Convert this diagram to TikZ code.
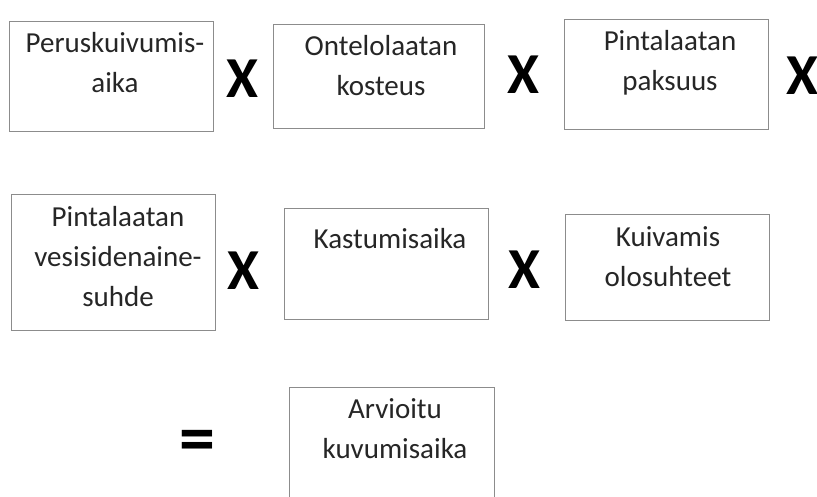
\documentclass[tikz,border=0pt]{standalone}
\usepackage{fontspec}
\setmainfont{Carlito}
\usetikzlibrary{positioning}

\tikzset{
  box/.style={draw=black!45, line width=1pt, minimum width=204pt, inner sep=0pt},
  txt/.style={font=\fontsize{29}{40}\selectfont, text=black!85, align=center, anchor=north, inner sep=0pt},
  op/.style={font=\fontsize{58}{58}\selectfont\bfseries, inner sep=0pt}
}

\begin{document}
\begin{tikzpicture}[x=1pt, y=-1pt]
        \clip (0,0) rectangle (817,497);
        \fill[white] (0,0) rectangle (817,497);

        % first row
        \node[box, minimum height=110pt] (peru) at (111,77) {};
        \node[box, minimum width=211pt, minimum height=104pt] (ontelo) at (378.5,77) {};
        \node[box, minimum height=110pt] (paksuus) at (666,75) {};
        \node[txt] (peruT) at (115,24.5) {\strut Peruskuivumis-\\aika};
        \node[txt] (onteloT) at (381,27) {\strut Ontelolaatan\\kosteus};
        \node[txt] (paksuusT) at (670,22) {\strut Pintalaatan\\paksuus};
        \node[op] (x1) at (242.5,78.5) {X};
        \node[op] (x2) at (523,75) {X};
        \node[op] (x3) at (802,76) {X};

        % second row
        \node[box, minimum height=135pt] (vs) at (113,262.5) {};
        \node[box, minimum height=110pt] (kastu) at (386,264) {};
        \node[box, minimum height=105pt] (olo) at (667,267.5) {};
        \node[txt] (vsT) at (118,198) {\strut Pintalaatan\\vesisidenaine-\\suhde};
        \node[txt] (kastuT) at (390,220.5) {\strut Kastumisaika};
        \node[txt] (oloT) at (668,218.5) {\strut Kuivamis\\olosuhteet};
        \node[op] (x4) at (243,271) {X};
        \node[op] (x5) at (524,270) {X};

        % result
        \node[op, font=\fontsize{72}{72}\selectfont\bfseries] (eq) at (197.5,446) {=};
        \node[box, minimum width=205pt, minimum height=123pt] (arvio) at (391.5,448.5) {};
        \node[txt] (arvioT) at (395,390.5) {\strut Arvioitu\\kuvumisaika};
    \end{tikzpicture}
\end{document}
